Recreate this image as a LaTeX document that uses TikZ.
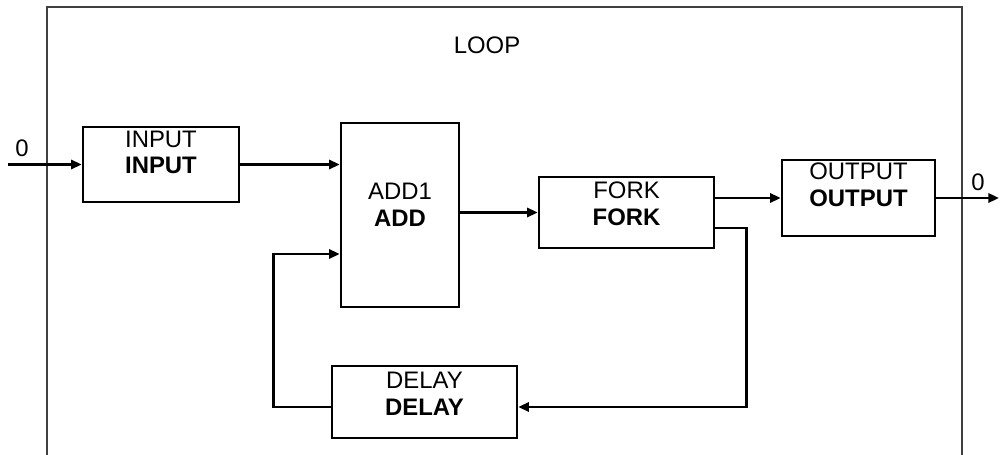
\documentclass[tikz,border=0pt]{standalone}
\usepackage{fontspec}
\setmainfont{Liberation Sans}
\usepackage{tikz}
\usetikzlibrary{arrows.meta,positioning,calc}

\begin{document}
\begin{tikzpicture}[
  x=0.02cm, y=-0.02cm,
  blk/.style={draw=black, line width=1.5pt, inner sep=0pt},
  txt/.style={font=\fontsize{13.6}{15.2}\selectfont, align=center, inner sep=0pt},
  conn/.style={draw=black, line width=1.4pt, -{Triangle[length=6pt,width=5.2pt]}},
  frame/.style={draw=black!75, line width=0.6pt}
]
  \useasboundingbox (0,0) rectangle (1000,455);

  % enclosing loop frame
  \draw[frame] (47,455) -- (47,7) -- (962,7) -- (962,455);
  \node[txt] (looplab) at (487,45) {LOOP};

  % blocks
  \node[blk, minimum width=3.12cm, minimum height=1.50cm] (input) at (161,164.5) {};
  \node[blk, minimum width=2.36cm, minimum height=3.68cm] (add) at (400,215) {};
  \node[blk, minimum width=3.50cm, minimum height=1.42cm] (fork) at (626.5,212.5) {};
  \node[blk, minimum width=3.06cm, minimum height=1.52cm] (output) at (858.5,198) {};
  \node[blk, minimum width=3.70cm, minimum height=1.44cm] (delay) at (424.5,402) {};

  % block texts
  \node[txt] (input-t) at ([yshift=0.24cm]input.center) {INPUT\\\textbf{INPUT}};
  \node[txt] (add-t) at ([yshift=0.20cm]add.center) {ADD1\\\textbf{ADD}};
  \node[txt] (fork-t) at ([yshift=0.18cm]fork.center) {FORK\\\textbf{FORK}};
  \node[txt] (output-t) at ([yshift=0.26cm]output.center) {OUTPUT\\\textbf{OUTPUT}};
  \node[txt] (delay-t) at ([yshift=0.16cm]delay.center) {DELAY\\\textbf{DELAY}};

  % outer ends
  \coordinate (inL) at (8,164.5);
  \coordinate (outR) at (999,198);
  \node[txt] (in-v) at (22,148) {0};
  \node[txt] (out-v) at (978,182) {0};

  % signal flow
  \draw[conn] (inL) -- (input.west);
  \draw[conn] (input.east) -- (input.east -| add.west);
  \draw[conn] (add.east |- fork.west) -- (fork.west);
  \draw[conn] (fork.east |- output.west) -- (output.west);
  \draw[conn] (output.east) -- (outR);

  % feedback through the delay
  \draw[conn] ([yshift=-0.31cm]fork.east) -- ++(31,0) |- ([yshift=-0.10cm]delay.east);
  \draw[conn] ([yshift=-0.10cm]delay.west) -- ++(-57,0) |- ([yshift=-0.78cm]add.west);
\end{tikzpicture}
\end{document}
